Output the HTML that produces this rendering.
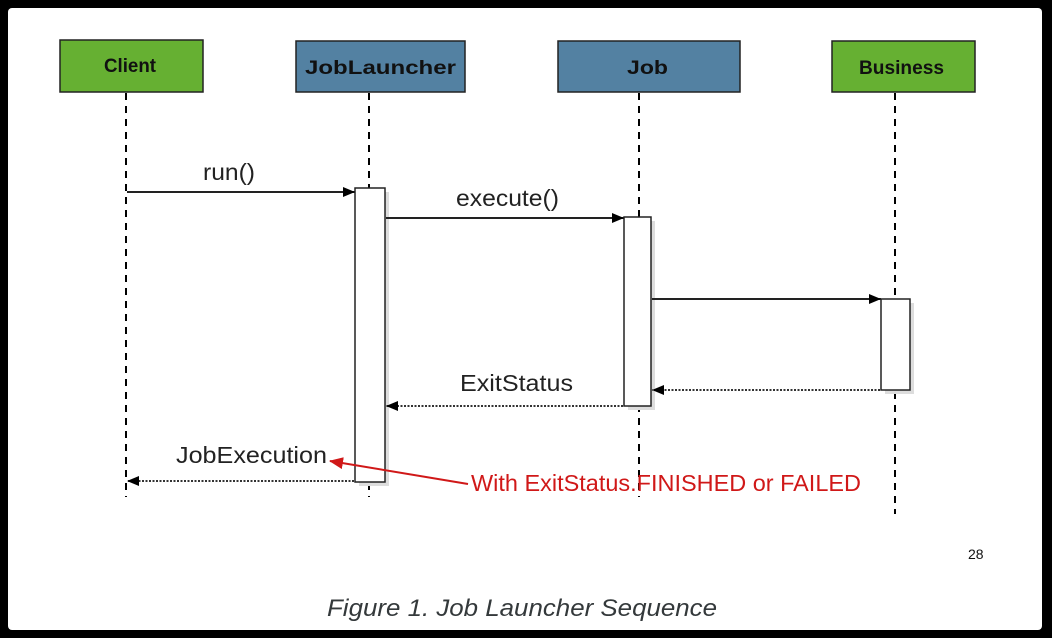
<!DOCTYPE html>
<html><head><meta charset="utf-8"><style>
html,body{margin:0;padding:0;background:#000;}
svg{display:block}
</style></head><body>
<svg width="1052" height="638" xmlns="http://www.w3.org/2000/svg" font-family="Liberation Sans, sans-serif">
<rect x="0" y="0" width="1052" height="638" fill="#000"/>
<rect x="8" y="8" width="1034" height="622" rx="4" fill="#fff"/>
<defs>
<marker id="a" markerWidth="12" markerHeight="12" refX="12" refY="6" orient="auto" markerUnits="userSpaceOnUse"><path d="M0,1 L12,6 L0,11 Z" fill="#000"/></marker>
<marker id="r" markerWidth="14" markerHeight="12" refX="13" refY="6" orient="auto" markerUnits="userSpaceOnUse"><path d="M0,0 L14,6 L0,12 Z" fill="#d01818"/></marker>
</defs>
<g stroke="#000" stroke-width="2" stroke-dasharray="7,6">
<line x1="126" y1="93" x2="126" y2="497"/>
<line x1="369" y1="93" x2="369" y2="497"/>
<line x1="639" y1="93" x2="639" y2="497"/>
<line x1="895" y1="93" x2="895" y2="514"/>
</g>
<g stroke="#222" stroke-width="1.5">
<rect x="60" y="40" width="143" height="52" fill="#66b032"/>
<rect x="296" y="41" width="169" height="51" fill="#5381a2"/>
<rect x="558" y="41" width="182" height="51" fill="#5381a2"/>
<rect x="832" y="41" width="143" height="51" fill="#66b032"/>
</g>
<g font-weight="bold" font-size="19" fill="#111">
<text x="104" y="72" textLength="52" lengthAdjust="spacingAndGlyphs">Client</text>
<text x="305" y="74" textLength="151" lengthAdjust="spacingAndGlyphs">JobLauncher</text>
<text x="627" y="74" textLength="41" lengthAdjust="spacingAndGlyphs">Job</text>
<text x="859" y="74" textLength="85" lengthAdjust="spacingAndGlyphs">Business</text>
</g>
<g fill="#ddd"><rect x="359" y="192" width="30" height="294"/><rect x="628" y="221" width="27" height="189"/><rect x="885" y="303" width="29" height="91"/></g>
<g fill="#fff" stroke="#222" stroke-width="1.5">
<rect x="355" y="188" width="30" height="294"/>
<rect x="624" y="217" width="27" height="189"/>
<rect x="881" y="299" width="29" height="91"/>
</g>
<g stroke="#222" stroke-width="2">
<line x1="127" y1="192" x2="355" y2="192" marker-end="url(#a)"/>
<line x1="386" y1="218" x2="624" y2="218" marker-end="url(#a)"/>
<line x1="652" y1="299" x2="881" y2="299" marker-end="url(#a)"/>
</g>
<g stroke="#333" stroke-width="2" stroke-dasharray="2,1.5">
<line x1="880" y1="390" x2="652" y2="390" marker-end="url(#a)"/>
<line x1="623" y1="406" x2="386" y2="406" marker-end="url(#a)"/>
<line x1="354" y1="481" x2="127" y2="481" marker-end="url(#a)"/>
</g>
<g font-size="23" fill="#222">
<text x="203" y="180" textLength="52" lengthAdjust="spacingAndGlyphs">run()</text>
<text x="456" y="206" textLength="103" lengthAdjust="spacingAndGlyphs">execute()</text>
<text x="460" y="391" textLength="113" lengthAdjust="spacingAndGlyphs">ExitStatus</text>
<text x="176" y="463" textLength="151" lengthAdjust="spacingAndGlyphs">JobExecution</text>
</g>
<line x1="468" y1="484" x2="330" y2="461" stroke="#d01818" stroke-width="2" marker-end="url(#r)"/>
<text x="471" y="491" font-size="23" fill="#d01818" textLength="390" lengthAdjust="spacingAndGlyphs">With ExitStatus.FINISHED or FAILED</text>
<text x="968" y="559" font-size="14" fill="#111">28</text>
<text x="327" y="616" font-size="24" font-style="italic" fill="#34393b" textLength="390" lengthAdjust="spacingAndGlyphs">Figure 1. Job Launcher Sequence</text>
</svg>
</body></html>
